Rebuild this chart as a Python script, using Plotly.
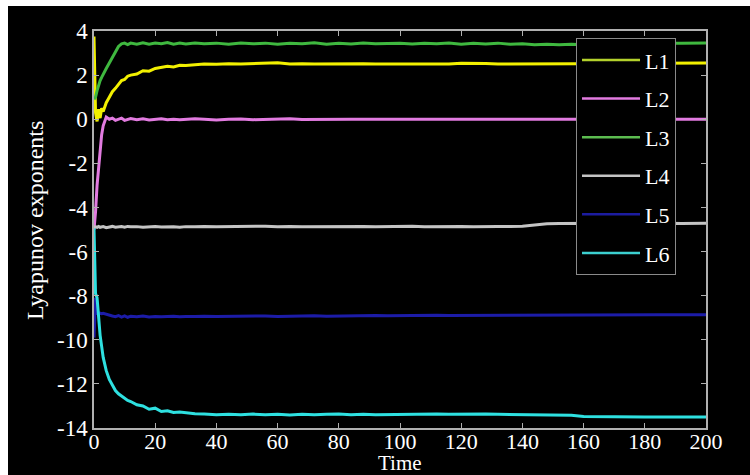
import plotly.graph_objects as go

# ---- data ----
time = [0, 0.5, 1, 1.5, 2, 2.5, 3, 4, 5, 6, 7, 8, 9, 10, 11, 12,
        14, 16, 18, 20, 22, 24, 26, 28, 30, 33, 36, 40,
        44, 48, 52, 56, 60, 64, 68, 72, 76, 80, 84, 88, 92, 96, 100,
        104, 108, 112, 116, 120, 124, 128, 132, 136, 140, 144, 148,
        152, 156, 160, 164, 168, 172, 176, 180, 184, 188, 192, 196, 200]

L1 = [3.75, 0.3, -0.1, 0.45, 0.05, 0.5, 0.35, 0.75, 1.0, 1.25, 1.4, 1.6, 1.75, 1.8, 1.95, 2.0,
      2.05, 2.2, 2.18, 2.3, 2.35, 2.4, 2.37, 2.45, 2.44, 2.48, 2.5, 2.49,
      2.52, 2.5, 2.53, 2.55, 2.56, 2.5, 2.52, 2.5, 2.51, 2.5, 2.5, 2.52, 2.5, 2.5, 2.5,
      2.51, 2.5, 2.5, 2.5, 2.54, 2.55, 2.53, 2.5, 2.5, 2.5, 2.5, 2.5,
      2.5, 2.5, 2.52, 2.52, 2.53, 2.53, 2.53, 2.53, 2.54, 2.54, 2.54, 2.55, 2.55]

L2 = [-5.0, -4.2, -3.0, -2.2, -1.5, -0.7, -0.3, 0.1, 0.0, 0.05, -0.05, 0.0, 0.05, -0.05, 0.0, 0.03,
      -0.02, 0.02, -0.03, 0.0, 0.02, -0.02, 0.0, -0.02, 0.0, 0.02, 0.0, -0.03,
      0.0, 0.01, -0.02, 0.0, 0.0, 0.02, -0.01, 0.0, -0.02, 0.0, 0.0, 0.0, 0.0, -0.02, 0.0,
      0.0, 0.0, 0.0, -0.01, 0.0, 0.0, 0.0, -0.01, 0.0, 0.0, 0.0, 0.0,
      0.0, 0.0, 0.0, 0.0, 0.0, 0.0, 0.0, 0.0, 0.0, 0.0, 0.0, 0.0, 0.0]

L3 = [0.9, 1.0, 1.3, 1.6, 1.75, 1.9, 2.05, 2.3, 2.55, 2.8, 3.05, 3.3, 3.42, 3.45, 3.38, 3.45,
      3.4, 3.47, 3.4, 3.45, 3.42, 3.48, 3.4, 3.45, 3.41, 3.46, 3.42, 3.45,
      3.4, 3.46, 3.42, 3.45, 3.4, 3.44, 3.42, 3.47, 3.4, 3.44, 3.41, 3.46, 3.42, 3.44, 3.45,
      3.41, 3.45, 3.42, 3.46, 3.4, 3.44, 3.41, 3.45, 3.4, 3.42, 3.38, 3.4,
      3.38, 3.4, 3.38, 3.4, 3.42, 3.4, 3.42, 3.44, 3.42, 3.45, 3.44, 3.46, 3.46]

L4 = [-4.9, -4.88, -4.9, -4.86, -4.9, -4.88, -4.87, -4.92, -4.88, -4.86, -4.9, -4.88, -4.87, -4.9, -4.86, -4.88,
      -4.87, -4.9, -4.88, -4.86, -4.89, -4.87, -4.88, -4.9, -4.87, -4.88, -4.86, -4.88,
      -4.87, -4.88, -4.87, -4.85, -4.88, -4.86, -4.88, -4.87, -4.86, -4.88, -4.87, -4.86, -4.87, -4.86, -4.86,
      -4.85, -4.87, -4.86, -4.85, -4.86, -4.87, -4.85, -4.86, -4.86, -4.85, -4.8, -4.74,
      -4.73, -4.72, -4.73, -4.72, -4.72, -4.73, -4.72, -4.72, -4.72, -4.72, -4.73, -4.72, -4.72]

L5 = [-9.9, -8.1, -8.8, -8.78, -8.8, -8.82, -8.8, -8.85, -8.9, -8.92, -8.95, -8.9, -8.97, -8.92, -8.98, -8.93,
      -8.96, -8.92, -8.97, -8.94, -8.96, -8.95, -8.93, -8.96, -8.94, -8.95, -8.93, -8.95,
      -8.94, -8.93, -8.95, -8.92, -8.94, -8.92, -8.93, -8.91, -8.93, -8.92, -8.9, -8.92, -8.9, -8.91, -8.9,
      -8.9, -8.91, -8.89, -8.9, -8.9, -8.89, -8.9, -8.88, -8.9, -8.89, -8.88, -8.9,
      -8.88, -8.89, -8.88, -8.87, -8.88, -8.87, -8.88, -8.87, -8.87, -8.86, -8.87, -8.86, -8.86]

L6 = [-4.95, -7.9, -8.1, -9.0, -9.8, -10.3, -10.8, -11.4, -11.8, -12.05, -12.3, -12.45, -12.55, -12.65, -12.75, -12.8,
      -12.95, -13.0, -13.15, -13.1, -13.25, -13.22, -13.3, -13.28, -13.32, -13.35, -13.37, -13.4,
      -13.38, -13.4, -13.37, -13.4, -13.38, -13.41, -13.38, -13.4, -13.38, -13.36, -13.4, -13.38, -13.4, -13.39, -13.37,
      -13.36, -13.38, -13.36, -13.38, -13.37, -13.36, -13.37, -13.38, -13.39, -13.4, -13.4, -13.41,
      -13.42, -13.42, -13.48, -13.49, -13.49, -13.5, -13.5, -13.5, -13.5, -13.5, -13.5, -13.5, -13.5]

names = ["L1", "L2", "L3", "L4", "L5", "L6"]
series = [L1, L2, L3, L4, L5, L6]
line_colors = ["#f2f000", "#e27be0", "#3fb83f", "#c4c4c4", "#1c1ca8", "#2ee0e0"]
legend_colors = ["#b3d12c", "#e27be0", "#5cbc50", "#c4c4c4", "#1c1ca0", "#3cd0d0"]

x_ticks = [0, 20, 40, 60, 80, 100, 120, 140, 160, 180, 200]
y_ticks = [4, 2, 0, -2, -4, -6, -8, -10, -12, -14]
y_ticktext = ["4", "2", "0", "-2", "-4", "-6", "-8", "-10", "-12", "-14"]
x_title = "Time"
y_title = "Lyapunov exponents"

FONT = "Liberation Serif, Times New Roman, serif"

fig = go.Figure()
for name, vals, col in zip(names, series, line_colors):
    fig.add_trace(go.Scatter(x=time, y=vals, mode="lines", name=name,
                             line=dict(color=col, width=3), showlegend=False))
# legend entries (colours as shown in the reference legend)
for name, col in zip(names, legend_colors):
    fig.add_trace(go.Scatter(x=[None], y=[None], mode="lines", name=name,
                             legendgroup=name, line=dict(color=col, width=2.5)))

axis_common = dict(showline=True, linecolor="#b0b0b0", linewidth=1.5, mirror="ticks",
                   ticks="inside", ticklen=5, tickcolor="#b0b0b0", tickwidth=1.2,
                   showgrid=False, zeroline=False, automargin=False)

fig.update_layout(
    width=750, height=475,
    margin=dict(l=94, r=44, t=31, b=47),
    paper_bgcolor="black", plot_bgcolor="black",
    xaxis=dict(range=[0, 200], tickvals=x_ticks, ticklabelstandoff=-7,
               tickfont=dict(family=FONT, size=22, color="white"), **axis_common),
    yaxis=dict(range=[-14, 4], tickvals=y_ticks, ticktext=y_ticktext,
               tickfont=dict(family=FONT, size=23, color="white"), **axis_common),
    legend=dict(x=0.7876, y=0.982, xanchor="left", yanchor="top",
                bgcolor="black", bordercolor="#8a8a8a", borderwidth=1,
                font=dict(family=FONT, size=22, color="white"),
                tracegroupgap=7, itemwidth=58),
    annotations=[
        dict(text=x_title, xref="paper", yref="paper", x=0.5, y=(428 - 477) / 397,
             xanchor="center", yanchor="bottom", showarrow=False,
             font=dict(family=FONT, size=21, color="white")),
        dict(text=y_title, xref="paper", yref="paper", x=(35 - 94) / 612, y=(428 - 221) / 397,
             xanchor="center", yanchor="middle", showarrow=False, textangle=-90,
             font=dict(family=FONT, size=24, color="white")),
    ],
    shapes=[
        dict(type="rect", xref="paper", yref="paper", x0=-0.16, x1=1.08,
             y0=1.0 + (31 - 6) / 397, y1=1.2, fillcolor="white", line=dict(width=0), layer="above"),
        dict(type="rect", xref="paper", yref="paper", x0=-0.2, x1=(8 - 94) / 612,
             y0=-0.2, y1=1.2, fillcolor="white", line=dict(width=0), layer="above"),
    ],
)

fig.write_html("out.html")
